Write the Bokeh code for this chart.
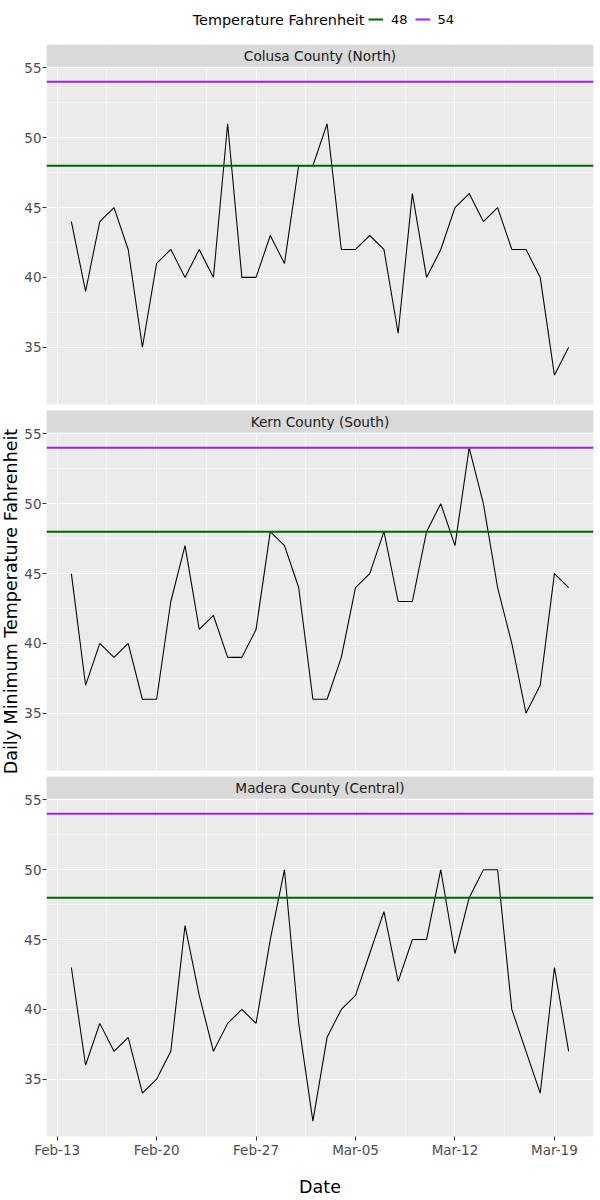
import numpy as np
import pandas as pd
from bokeh.plotting import figure
from bokeh.layouts import column, row
from bokeh.models import (Range1d, FixedTicker, DatetimeTickFormatter, BoxAnnotation,
                          Label, Legend, LegendItem)
from bokeh.embed import file_html
from bokeh.resources import INLINE

# ---------------- data ----------------
dates = pd.date_range("2024-02-14", "2024-03-20", freq="D")
colusa = [44, 39, 44, 45, 42, 35, 41, 42, 40, 42, 40, 51, 40, 40, 43, 41, 48, 48,
          51, 42, 42, 43, 42, 36, 46, 40, 42, 45, 46, 44, 45, 42, 42, 40, 33, 35]
kern = [45, 37, 40, 39, 40, 36, 36, 43, 47, 41, 42, 39, 39, 41, 48, 47, 44, 36,
        36, 39, 44, 45, 48, 43, 43, 48, 50, 47, 54, 50, 44, 40, 35, 37, 45, 44]
madera = [43, 36, 39, 37, 38, 34, 35, 37, 46, 41, 37, 39, 40, 39, 45, 50, 39, 32,
          38, 40, 41, 44, 47, 42, 45, 45, 50, 44, 48, 50, 50, 40, 37, 34, 43, 37]
panel_names = ["Colusa County (North)", "Kern County (South)", "Madera County (Central)"]
panel_values = [colusa, kern, madera]
thresholds = [48, 54]
threshold_labels = ["48", "54"]
threshold_colors = ["#006400", "#A020F0"]
y_ticks = [35, 40, 45, 50, 55]
x_tick_dates = ["2024-02-13", "2024-02-20", "2024-02-27", "2024-03-05", "2024-03-12", "2024-03-19"]
legend_title = "Temperature Fahrenheit"
y_title = "Daily Minimum Temperature Fahrenheit"
x_title = "Date"

# ---------------- layout constants (pixels) ----------------
FONT = "DejaVu Sans"
YT_W = 21          # width of the y-title column
LEFT = 23          # minimum y axis area of the panels
FRAME_W = 547
RIGHT = 4
TOP = 44           # legend row height
STRIP = 22
PANEL_H = 338
FRAME_H = PANEL_H + STRIP
GAP = 6
BOTTOM = 60
TOTAL_H = TOP + 3 * FRAME_H + 2 * GAP + BOTTOM


def ms(d):
    return pd.Timestamp(d).value / 1e6


x_ms = np.array([ms(d) for d in dates])
span = x_ms.max() - x_ms.min()
x_lo, x_hi = x_ms.min() - 0.05 * span, x_ms.max() + 0.05 * span
all_vals = np.concatenate([np.array(v) for v in panel_values])
yspan = all_vals.max() - all_vals.min()
y_lo, y_hi = all_vals.min() - 0.05 * yspan, all_vals.max() + 0.05 * yspan
y_top = y_hi + STRIP * (y_hi - y_lo) / PANEL_H

x_major = [ms(d) for d in x_tick_dates]
x_minor = [(a + b) / 2 for a, b in zip(x_major[:-1], x_major[1:])]
y_minor = [(a + b) / 2 for a, b in zip(y_ticks[:-1], y_ticks[1:])]


def style_axis(ax):
    ax.axis_line_color = None
    ax.major_tick_in = 0
    ax.major_tick_out = 4
    ax.major_tick_line_color = "#333333"
    ax.major_tick_line_width = 1.07
    ax.minor_tick_line_color = None
    ax.major_label_text_font = FONT
    ax.major_label_text_font_size = "13.5px"
    ax.major_label_text_color = "#4D4D4D"
    ax.major_label_standoff = 1
    ax.axis_label_text_font = FONT
    ax.axis_label_text_font_size = "17.5px"
    ax.axis_label_text_font_style = "normal"
    ax.axis_label_text_color = "black"


def make_panel(i, name, vals):
    last = i == 2
    p = figure(frame_width=FRAME_W, frame_height=FRAME_H,
               x_range=Range1d(x_lo, x_hi), y_range=Range1d(y_lo, y_top),
               x_axis_type="datetime", x_axis_location="below" if last else None,
               y_axis_location="left", toolbar_location=None, output_backend="svg",
               min_border=0, min_border_left=LEFT, min_border_right=RIGHT,
               min_border_bottom=BOTTOM if last else GAP,
               background_fill_color="#EBEBEB", border_fill_color="white",
               outline_line_color=None)
    p.xgrid.ticker = FixedTicker(ticks=x_major, minor_ticks=x_minor)
    p.ygrid.ticker = FixedTicker(ticks=y_ticks, minor_ticks=y_minor)
    for g in list(p.xgrid) + list(p.ygrid):
        g.grid_line_color = "white"
        g.grid_line_width = 1.1
        g.minor_grid_line_color = "white"
        g.minor_grid_line_width = 0.55
    p.yaxis.ticker = FixedTicker(ticks=y_ticks, minor_ticks=y_minor)
    style_axis(p.yaxis[0])
    if last:
        p.xaxis.ticker = FixedTicker(ticks=x_major, minor_ticks=x_minor)
        p.xaxis.formatter = DatetimeTickFormatter(days="%b-%d", months="%b-%d")
        style_axis(p.xaxis[0])
        p.xaxis.major_label_standoff = 1
        p.xaxis.axis_label = x_title
        p.xaxis.axis_label_standoff = 16

    p.line(x_ms, vals, line_color="black", line_width=1.07)
    for t, c in zip(thresholds, threshold_colors):
        p.line(x=[x_lo, x_hi], y=[t, t], line_color=c, line_width=2)

    # facet strip
    p.add_layout(BoxAnnotation(bottom=y_hi, fill_color="#D9D9D9", fill_alpha=1.0,
                               line_color=None))
    p.add_layout(Label(x=(x_lo + x_hi) / 2, y=(y_hi + y_top) / 2, text=name,
                       text_align="center", text_baseline="middle",
                       text_font=FONT, text_font_size="13.7px", text_color="#1A1A1A"))
    return p


# ---------------- legend row (pixel ranges: x = page x, y = page y from top) ----------------
LG_W = 600 - YT_W - 2
lg = figure(frame_width=LG_W, frame_height=TOP, x_range=Range1d(YT_W, YT_W + LG_W),
            y_range=Range1d(TOP, 0), x_axis_location=None, y_axis_location=None,
            min_border=0, toolbar_location=None, output_backend="svg",
            outline_line_color=None, background_fill_color="white",
            border_fill_color="white", frame_align=False)
lg.grid.visible = False
legend_renderers = [lg.line(x=[0, 1], y=[t, t], line_color=c, line_width=2)
                    for t, c in zip(thresholds, threshold_colors)]
legend = Legend(items=[LegendItem(label=l, renderers=[r])
                       for l, r in zip(threshold_labels, legend_renderers)],
                orientation="horizontal", location=(368 - YT_W, TOP - 27),
                padding=0, margin=0, spacing=7, glyph_width=15, glyph_height=16,
                label_height=16, label_width=16, label_standoff=8,
                label_text_font=FONT, label_text_font_size="13px",
                label_text_color="black", background_fill_alpha=0,
                border_line_color=None)
lg.add_layout(legend)
lg.add_layout(Label(x=364, y=19, text=legend_title, text_align="right",
                    text_baseline="middle", text_font=FONT, text_font_size="14.4px",
                    text_color="black"))

# ---------------- y title column ----------------
yt = figure(frame_width=YT_W, frame_height=TOTAL_H, x_range=Range1d(0, YT_W),
            y_range=Range1d(TOTAL_H, 0), x_axis_location=None, y_axis_location=None,
            min_border=0, toolbar_location=None, output_backend="svg",
            outline_line_color=None, background_fill_color="white",
            border_fill_color="white", frame_align=False)
yt.grid.visible = False
yt.add_layout(Label(x=10.5, y=601, text=y_title, angle=np.pi / 2, text_align="center",
                    text_baseline="middle", text_font=FONT, text_font_size="17.5px",
                    text_color="black"))

panels = [make_panel(i, n, v) for i, (n, v) in enumerate(zip(panel_names, panel_values))]
layout = row(yt, column(lg, *panels, spacing=0), spacing=0)

open("out.html", "w").write(file_html(layout, INLINE, title="Daily Minimum Temperature"))
